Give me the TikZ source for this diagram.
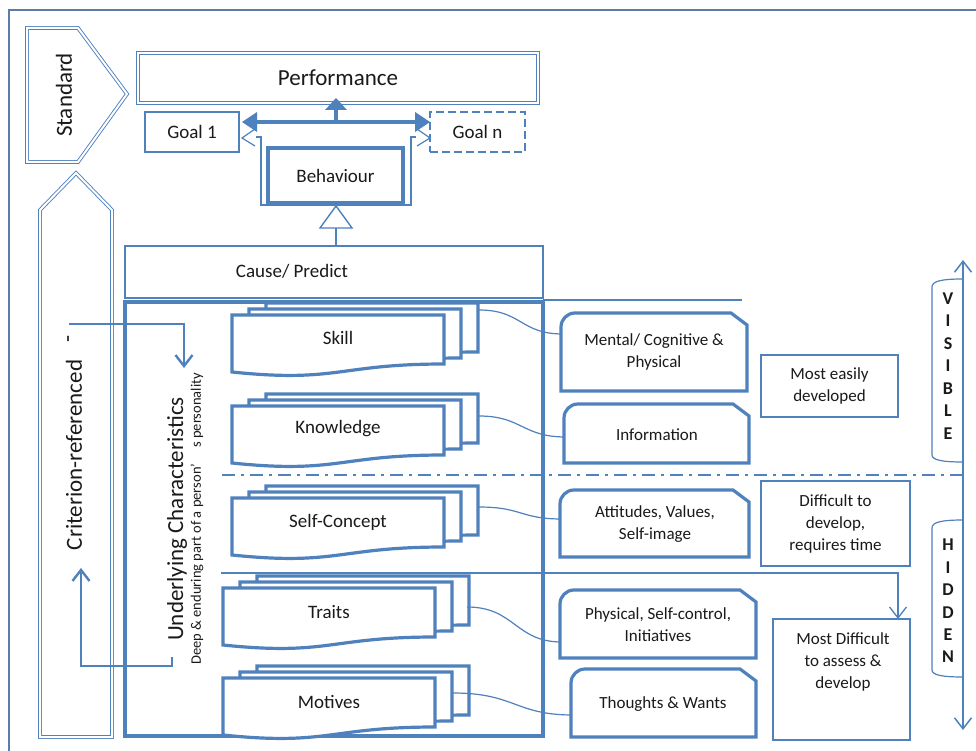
\documentclass[tikz,border=0pt]{standalone}
\usepackage{fontspec}
\setmainfont{Carlito}
\usetikzlibrary{arrows.meta}
\definecolor{accent}{RGB}{79,129,189}
\definecolor{framec}{RGB}{92,124,168}
\definecolor{ink}{RGB}{26,26,26}

% box with a rounded top-left corner and a snipped top-right corner
\newcommand\tagshape[4]{%
  \draw[heavy, fill=white] (#1,#4) -- (#1,#2+14) arc[start angle=180, end angle=270, radius=14]
    -- (#3-16,#2) -- (#3,#2+12) -- (#3,#4) -- cycle;}

\tikzset{
  heavy/.style={draw=accent, line width=3.2pt},
  fine/.style={draw=accent, line width=1.2pt},
  dbl/.style={draw=accent, line width=0.9pt, double=white, double distance=2pt},
  lbl/.style={text=ink, inner sep=0pt, font=\fontsize{19}{22}\selectfont},
  biglbl/.style={text=ink, inner sep=0pt, font=\fontsize{23}{26}\selectfont},
  sidelbl/.style={text=ink, inner sep=0pt, align=center, font=\fontsize{17}{22}\selectfont},
  vtip/.tip={Straight Barb[length=11pt, width=17pt]},
  docpage/.pic={\path[heavy, fill=white] (0,0) -- (212,0) -- (212,49)
      .. controls (106,49) and (106,68) .. (0,57) -- cycle;},
  docstack/.pic={\pic at (34,-12) {docpage}; \pic at (17,-6) {docpage}; \pic at (0,0) {docpage};},
}

\begin{document}
\begin{tikzpicture}[x=1pt, y=-1pt, line join=miter]
\useasboundingbox (0,0) rectangle (976,751);
\clip (0,0) rectangle (976,751);
\fill[white] (0,0) rectangle (976,751);

% outer frame
\draw[framec, line width=1.5pt] (9,770) -- (9,10) -- (990,10);

% Standard (right-pointing pentagon)
\draw[dbl] (27,28) -- (78,28) -- (127,94) -- (78,162) -- (27,162) -- cycle;
\node[biglbl, rotate=90] (standard) at (64,95) {Standard};

% Criterion-referenced (up-pointing pentagon)
\draw[dbl] (40,737) -- (40,210) -- (76,173) -- (112,210) -- (112,737) -- cycle;
\node[biglbl, rotate=90] (criterion) at (74,455) {Criterion-referenced};
\node[biglbl, rotate=90] (critdash) at (71,339) {-};

% Performance and goals
\node[dbl, minimum width=400, minimum height=50, biglbl] (perf) at (338,78) {Performance};
\node[fine, minimum width=94, minimum height=40, lbl] (goal1) at (192,132) {Goal 1};
\node[fine, dash pattern=on 8pt off 4pt, minimum width=95, minimum height=40, lbl] (goaln) at (477.5,132) {Goal n};

% outline behind the behaviour box
\draw[fine] (256,137) -- (261,137) -- (261,205) -- (411,205) -- (411,137) -- (416,137);
\draw[fine] (255,129) -- (242,138) -- (255,146);
\draw[fine] (417,129) -- (430,138) -- (417,146);

% Behaviour
\node[draw=accent, line width=3.8pt, fill=white, minimum width=135, minimum height=55, lbl] (behav) at (335.5,175.5) {Behaviour};

% three-way arrow from behaviour to goals and performance
\coordinate (fork) at (336,122);
\coordinate (fork-l) at (242,122);
\coordinate (fork-r) at (430,122);
\coordinate (fork-u) at (336,98);
\draw[accent, line width=4.5pt] (252,122) -- (420,122);
\draw[accent, line width=4.5pt] (fork) -- (336,106);
\fill[accent] (fork-l) -- (257,112) -- (257,132) -- cycle;
\fill[accent] (fork-r) -- (415,112) -- (415,132) -- cycle;
\fill[accent] (fork-u) -- (325,110) -- (347,110) -- cycle;

% Cause / Predict
\node[fine, minimum width=418, minimum height=52] (cause) at (334,272) {};
\node[lbl] (causetxt) at (292,271) {Cause/ Predict};
\draw[fine] (336,228) -- (336,246);
\draw[fine, line width=1.4pt, fill=white] (336,206) -- (352,228) -- (320,228) -- cycle;

% Underlying characteristics frame
\node[heavy, minimum width=418, minimum height=434] (under) at (334,519) {};
\draw[fine] (543,300) -- (742,300);

% criterion loop arrows
\coordinate (loop-a) at (69,324);
\coordinate (loop-b) at (184,368);
\coordinate (loop-c) at (172,657);
\coordinate (loop-d) at (81,568);
\draw[accent, line width=2.4pt, -{vtip}] (loop-a) -| (loop-b);
\draw[accent, line width=2.4pt, -{vtip}] (loop-c) -- (172,666) -- (81,666) -- (loop-d);

\node[biglbl, rotate=90] (uc) at (177,519) {Underlying Characteristics};
\node[text=ink, inner sep=0pt, rotate=90, font=\fontsize{14.5}{16}\selectfont] (ucsub) at (197,519)
  {Deep \& enduring part of a person'\hspace{1.1em}s personality};

% visible / hidden boundary
\draw[accent, line width=2.5pt, dash pattern=on 13pt off 6pt on 3pt off 6pt] (222,475) -- (966,475);

% arrow to the hardest group
\coordinate (hard-a) at (221,573);
\coordinate (hard-b) at (898,619);
\draw[accent, line width=1.3pt, -{vtip}] (hard-a) -| (hard-b);

% document stacks
\pic at (232,315) {docstack};
\node[lbl] (skill) at (338,338) {Skill};
\pic at (232,406) {docstack};
\node[lbl] (know) at (338,429) {Knowledge};
\pic at (232,498) {docstack};
\node[lbl] (self) at (338,522) {Self-Concept};
\pic at (223,588) {docstack};
\node[lbl] (traits) at (329,612) {Traits};
\pic at (223,678) {docstack};
\node[lbl] (motives) at (329,702) {Motives};

% connectors from stacks to descriptions
\coordinate (skill-o) at (479,310);
\coordinate (know-o) at (479,416);
\coordinate (self-o) at (479,507);
\coordinate (traits-o) at (467,607);
\coordinate (motives-o) at (453,693);
\coordinate (mental-i) at (563,334);
\coordinate (info-i) at (566,437);
\coordinate (att-i) at (562,519);
\coordinate (phys-i) at (562,642);
\coordinate (tw-i) at (573,715);
\draw[fine] (skill-o) .. controls (522,310) and (520,334) .. (mental-i);
\draw[fine] (know-o) .. controls (522,416) and (522,437) .. (info-i);
\draw[fine] (self-o) .. controls (522,507) and (520,519) .. (att-i);
\draw[fine] (traits-o) .. controls (515,607) and (515,642) .. (phys-i);
\draw[fine] (motives-o) .. controls (515,693) and (515,715) .. (tw-i);

% descriptions
\tagshape{561}{313}{747}{391}
\node[sidelbl] (mental) at (654,352) {Mental/ Cognitive \&\\Physical};
\tagshape{564}{404}{749}{463}
\node[sidelbl] (info) at (657,435) {Information};
\tagshape{560}{490}{749}{557}
\node[sidelbl] (att) at (655,524) {Attitudes, Values,\\Self-image};
\tagshape{560}{590}{756}{658}
\node[sidelbl] (phys) at (658,625) {Physical, Self-control,\\Initiatives};
\tagshape{571}{669}{756}{737}
\node[sidelbl] (tw) at (663,704) {Thoughts \& Wants};

% development notes
\node[fine, minimum width=137, minimum height=62, sidelbl] (easy) at (829.5,386) {Most easily\\developed};
\node[fine, minimum width=149, minimum height=85, sidelbl] (diff) at (835.5,523.5) {Difficult to\\develop,\\requires time};
\node[fine, minimum width=137, minimum height=121] (mostdiff) at (841.5,679.5) {};
\node[sidelbl] (mostdifftxt) at (843,662) {Most Difficult\\to assess \&\\develop};

% visible / hidden scale
\coordinate (scale-top) at (963,260);
\coordinate (scale-bot) at (963,730);
\draw[accent, line width=1.5pt, {vtip}-{vtip}] (scale-top) -- (scale-bot);
\draw[fine] (963,279) .. controls (942,279) and (932,281) .. (932,287) -- (932,455)
  .. controls (932,460) and (942,462) .. (963,462);
\draw[fine] (963,520) .. controls (942,520) and (932,522) .. (932,528) -- (932,670)
  .. controls (932,675) and (942,677) .. (963,677);
\node[text=ink, inner sep=0pt, align=center, font=\bfseries\fontsize{18}{22.5}\selectfont] (vis) at (948,366) {V\\I\\S\\I\\B\\L\\E};
\node[text=ink, inner sep=0pt, align=center, font=\bfseries\fontsize{18}{22.4}\selectfont] (hid) at (948,601) {H\\I\\D\\D\\E\\N};
\end{tikzpicture}
\end{document}
